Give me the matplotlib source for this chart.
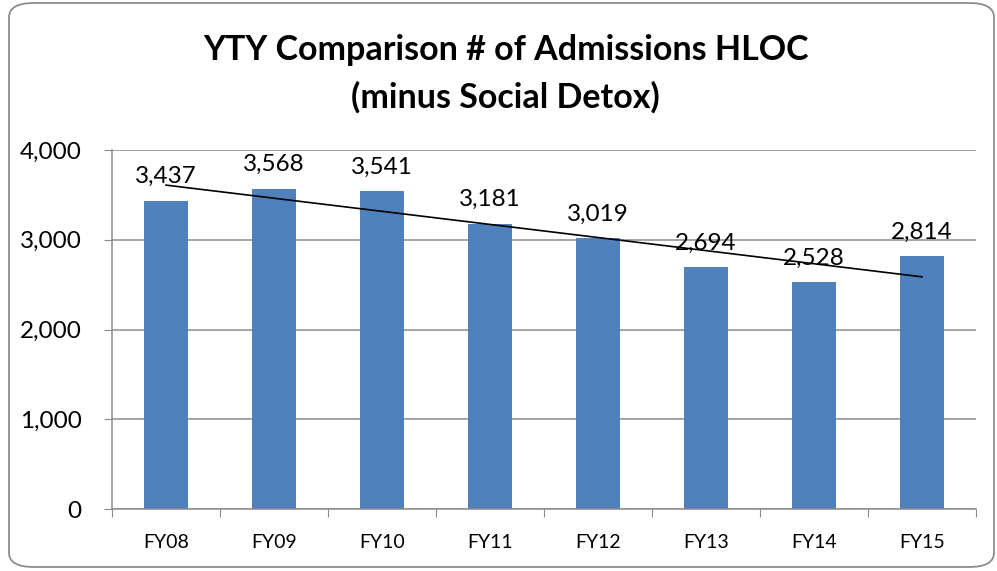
import numpy as np
import matplotlib.pyplot as plt
from matplotlib.patches import FancyBboxPatch

years = ["FY08", "FY09", "FY10", "FY11", "FY12", "FY13", "FY14", "FY15"]
admissions = [3437, 3568, 3541, 3181, 3019, 2694, 2528, 2814]
y_ticks = [0, 1000, 2000, 3000, 4000]

plt.rcParams["font.family"] = ["Lato", "DejaVu Sans"]

fig = plt.figure(figsize=(9.97, 5.71), dpi=100)
ax = fig.add_axes([112 / 997, 1 - 509 / 571, 864 / 997, 359 / 571])

# rounded chart border
border = FancyBboxPatch((9 / 997, 4 / 571), 985 / 997, 564 / 571,
                        boxstyle="round,pad=0,rounding_size=0.025",
                        transform=fig.transFigure, fill=False,
                        edgecolor="#8c8c8c", linewidth=1.3)
fig.patches.append(border)

x = np.arange(len(years))
ax.bar(x, admissions, width=0.41, color="#4f81bd", zorder=2)

# linear trendline
slope, icept = np.polyfit(x, admissions, 1)
ax.plot([x[0], x[-1]], [icept, icept + slope * x[-1]], color="black",
        linewidth=1.2, zorder=3)

for xi, v in zip(x, admissions):
    ax.text(xi, v + 150, f"{v:,}", ha="center", va="bottom", fontsize=17.5,
            zorder=4)

ax.set_xlim(-0.5, len(years) - 0.5)
ax.set_ylim(0, 4000)
ax.set_yticks(y_ticks)
ax.set_yticklabels([f"{t:,}" for t in y_ticks], fontsize=17.5)
ax.set_xticks(np.arange(len(years) + 1) - 0.5, minor=False)
ax.set_xticklabels([])
ax.set_xticks(x, minor=True)
ax.set_xticklabels(years, minor=True, fontsize=14)
ax.tick_params(axis="x", which="minor", length=0, pad=18)
ax.tick_params(axis="x", which="major", length=6, color="#8c8c8c",
               direction="out")
ax.tick_params(axis="y", length=6, color="#8c8c8c", direction="out", pad=16)

ax.grid(axis="y", color="#8c8c8c", linewidth=1.1, zorder=0)
ax.set_axisbelow(True)
for s in ["top", "right"]:
    ax.spines[s].set_visible(False)
for s in ["left", "bottom"]:
    ax.spines[s].set_color("#8c8c8c")
    ax.spines[s].set_linewidth(1.1)

fig.text(0.507, 1 - 50 / 571, "YTY Comparison # of Admissions HLOC",
         ha="center", va="center", fontsize=24.5, fontweight="bold")
fig.text(0.507, 1 - 97 / 571, "(minus Social Detox)",
         ha="center", va="center", fontsize=24.5, fontweight="bold")

fig.savefig("out.png", dpi=100)
